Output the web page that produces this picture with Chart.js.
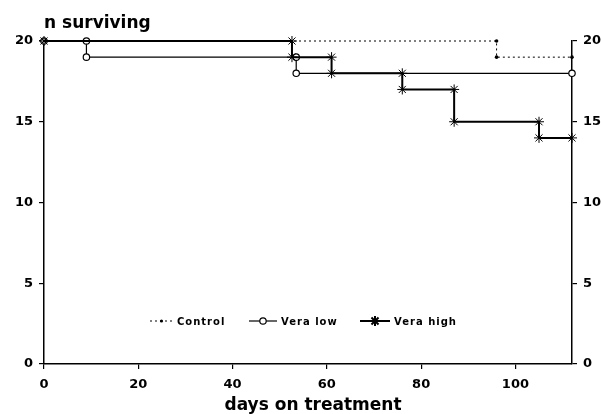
<!DOCTYPE html>
<html>
<head>
<meta charset="utf-8">
<script src="https://cdn.jsdelivr.net/npm/chart.js@4.4.1/dist/chart.umd.min.js"></script>
<style>
  html, body { margin: 0; padding: 0; background: #fff; }
  canvas { display: block; }
</style>
</head>
<body>
<canvas id="survivalChart" width="601" height="414"></canvas>
<script>
// days at which the count changes (last entry = end of follow-up)
const controlDays = [0, 96, 112];
const controlN = [20, 19, 19];
const veraLowDays = [0, 9, 53.5, 112];
const veraLowN = [20, 19, 18, 18];
const veraHighDays = [0, 52.6, 61, 76, 87, 105, 112];
const veraHighN = [20, 19, 18, 17, 15, 14, 14];

const xTicks = [0, 20, 40, 60, 80, 100];
const yTicks = [0, 5, 10, 15, 20];
const seriesNames = ['Control', 'Vera low', 'Vera high'];

// a drop gets a point on top and one at the bottom, like the original plot
function toSteps(days, n) {
    const pts = [{ x: days[0], y: n[0] }];
    for (let i = 1; i < days.length; i++) {
        if (n[i] !== n[i - 1]) pts.push({ x: days[i], y: n[i - 1] });
        pts.push({ x: days[i], y: n[i] });
    }
    return pts;
}

const tickFont = { family: 'DejaVu Sans', size: 13, weight: 'bold' };

function axisStyle(ticks, extra) {
    return Object.assign({
        type: 'linear',
        afterBuildTicks: s => { s.ticks = ticks.map(v => ({ value: v })); },
        grid: { drawOnChartArea: false, drawTicks: true, tickLength: 5, color: '#000', lineWidth: 1.2 },
        border: { display: true, color: '#000', width: 1.5 },
        ticks: { color: '#000', font: tickFont, padding: 6 },
    }, extra);
}

// titles + legend drawn inside the plot like the scanned figure
const decorations = {
    id: 'decorations',
    afterDraw(chart) {
        const ctx = chart.ctx;
        const a = chart.chartArea;
        ctx.save();
        ctx.fillStyle = '#000';
        ctx.strokeStyle = '#000';
        ctx.font = 'bold 17px "DejaVu Sans"';
        ctx.textBaseline = 'alphabetic';
        ctx.textAlign = 'left';
        ctx.fillText('n surviving', a.left, 28);
        ctx.textAlign = 'center';
        ctx.fillText('days on treatment', (a.left + a.right) / 2 + 5, 410);

        // legend row
        const ly = a.bottom - 43;
        const items = [
            { x0: 150, x1: 173, dash: [2, 3], lw: 1, style: { pointStyle: 'circle', radius: 1.6, borderWidth: 0 }, fill: '#000' },
            { x0: 249, x1: 277, dash: [], lw: 1.2, style: { pointStyle: 'circle', radius: 3.2, borderWidth: 1.2 }, fill: '#fff' },
            { x0: 360, x1: 390, dash: [], lw: 2, style: { pointStyle: 'star', radius: 5, borderWidth: 1 }, fill: '#000' },
        ];
        ctx.font = 'bold 10px "DejaVu Sans"';
        ctx.textAlign = 'left';
        ctx.textBaseline = 'middle';
        items.forEach((it, i) => {
            ctx.setLineDash(it.dash);
            ctx.lineWidth = it.lw;
            ctx.beginPath();
            ctx.moveTo(it.x0, ly);
            ctx.lineTo(it.x1, ly);
            ctx.stroke();
            ctx.setLineDash([]);
            ctx.fillStyle = it.fill;
            Chart.helpers.drawPoint(ctx, Object.assign({ rotation: 0 }, it.style), (it.x0 + it.x1) / 2, ly);
            ctx.fillStyle = '#000';
            ctx.letterSpacing = '1px';
            ctx.fillText(seriesNames[i], it.x1 + 4, ly + 1);
            ctx.letterSpacing = '0px';
        });
        ctx.restore();
    }
};

new Chart(document.getElementById('survivalChart').getContext('2d'), {
    type: 'line',
    data: {
        datasets: [
            {
                label: seriesNames[2],
                data: toSteps(veraHighDays, veraHighN),
                borderColor: '#000', borderWidth: 2,
                pointStyle: 'star', pointRadius: 5, pointBorderWidth: 1,
                pointBorderColor: '#000', pointBackgroundColor: '#000',
                clip: false, order: 1,
            },
            {
                label: seriesNames[1],
                data: toSteps(veraLowDays, veraLowN),
                borderColor: '#000', borderWidth: 1.2,
                pointStyle: 'circle', pointRadius: 3.2, pointBorderWidth: 1.2,
                pointBorderColor: '#000', pointBackgroundColor: '#fff',
                clip: false, order: 2,
            },
            {
                label: seriesNames[0],
                data: toSteps(controlDays, controlN),
                borderColor: '#000', borderWidth: 1, borderDash: [2, 3],
                pointStyle: 'circle', pointRadius: 1.8, pointBorderWidth: 0,
                pointBackgroundColor: '#000',
                clip: false, order: 3,
            },
        ],
    },
    options: {
        responsive: false,
        animation: false,
        events: [],
        layout: { padding: { top: 41, left: 0, right: 0, bottom: 0 } },
        scales: {
            x: axisStyle(xTicks, {
                position: 'bottom', min: 0, max: 112,
                afterFit: s => { s.height = 50; },
                ticks: { color: '#000', font: tickFont, padding: 8, maxRotation: 0 },
            }),
            y: axisStyle(yTicks, {
                position: 'left', min: 0, max: 20,
                afterFit: s => { s.width = 44; },
            }),
            y2: axisStyle(yTicks, {
                position: 'right', min: 0, max: 20,
                afterFit: s => { s.width = 29; },
            }),
        },
        plugins: {
            legend: { display: false },
            tooltip: { enabled: false },
        },
    },
    plugins: [decorations],
});
</script>
</body>
</html>
